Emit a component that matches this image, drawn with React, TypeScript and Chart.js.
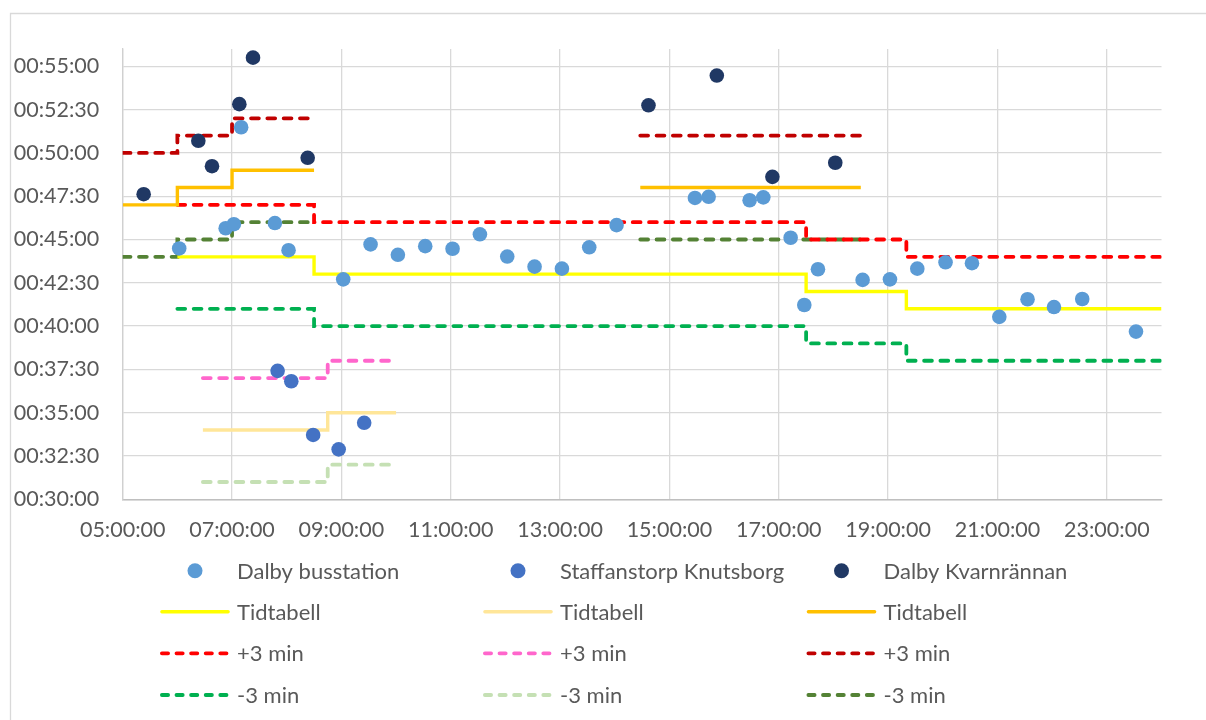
import React, { useEffect, useRef } from 'react';
import { Chart, registerables } from 'chart.js';
Chart.register(...registerables);

// ---- axis ticks ----
const xTickLabels = ['05:00:00', '07:00:00', '09:00:00', '11:00:00', '13:00:00', '15:00:00', '17:00:00', '19:00:00', '21:00:00', '23:00:00'];
const yTickLabels = ['00:30:00', '00:32:30', '00:35:00', '00:37:30', '00:40:00', '00:42:30', '00:45:00', '00:47:30', '00:50:00', '00:52:30', '00:55:00'];
const xRange = ['05:00:00', '24:00:00'];
const yRange = ['00:30:00', '00:56:00'];

// ---- Dalby busstation (observed) ----
const busTimes = ['06:02', '06:53', '07:02', '07:10', '07:47', '08:02', '09:02', '09:32', '10:02', '10:32', '11:02', '11:32', '12:02', '12:32', '13:02', '13:32', '14:02', '15:28', '15:43', '16:28', '16:43', '17:13', '17:28', '17:43', '18:32', '19:02', '19:32', '20:03', '20:32', '21:02', '21:33', '22:02', '22:33', '23:32'];
const busValues = ['00:44:29', '00:45:39', '00:45:53', '00:51:29', '00:45:57', '00:44:23', '00:42:42', '00:44:43', '00:44:07', '00:44:37', '00:44:28', '00:45:18', '00:44:01', '00:43:26', '00:43:19', '00:44:33', '00:45:50', '00:47:24', '00:47:28', '00:47:16', '00:47:26', '00:45:06', '00:41:13', '00:43:17', '00:42:40', '00:42:42', '00:43:19', '00:43:41', '00:43:38', '00:40:32', '00:41:33', '00:41:06', '00:41:34', '00:39:41'];

// ---- Staffanstorp Knutsborg (observed) ----
const staffTimes = ['07:50', '08:05', '08:29', '08:57', '09:25'];
const staffValues = ['00:37:25', '00:36:49', '00:33:43', '00:32:53', '00:34:25'];

// ---- Dalby Kvarnrännan (observed) ----
const kvarnTimes = ['05:23', '06:23', '06:38', '07:08', '07:23', '08:23', '14:37', '15:52', '16:53', '18:02'];
const kvarnValues = ['00:47:37', '00:50:42', '00:49:14', '00:52:49', '00:55:30', '00:49:43', '00:52:45', '00:54:28', '00:48:37', '00:49:26'];

// ---- Timetable steps: Dalby busstation ----
const tidBusTimes = ['06:00', '08:30', '17:30', '19:20', '24:00'];
const tidBus = ['00:44:00', '00:43:00', '00:42:00', '00:41:00', '00:41:00'];
const plusBus = ['00:47:00', '00:46:00', '00:45:00', '00:44:00', '00:44:00'];
const minusBus = ['00:41:00', '00:40:00', '00:39:00', '00:38:00', '00:38:00'];

// ---- Timetable steps: Staffanstorp Knutsborg ----
const tidStaffTimes = ['06:28', '08:45', '10:00'];
const tidStaff = ['00:34:00', '00:35:00', '00:35:00'];
const plusStaff = ['00:37:00', '00:38:00', '00:38:00'];
const minusStaff = ['00:31:00', '00:32:00', '00:32:00'];

// ---- Timetable steps: Dalby Kvarnrännan (gap between runs) ----
const tidKvarnTimes = ['05:00', '06:00', '07:00', '08:30', '11:00', '14:28', '18:30'];
const tidKvarn = ['00:47:00', '00:48:00', '00:49:00', '00:49:00', null, '00:48:00', '00:48:00'];
const plusKvarn = ['00:50:00', '00:51:00', '00:52:00', '00:52:00', null, '00:51:00', '00:51:00'];
const minusKvarn = ['00:44:00', '00:45:00', '00:46:00', '00:46:00', null, '00:45:00', '00:45:00'];

const toSec = (s: string | null): number | null => {
  if (s === null) return null;
  const p = s.split(':').map(Number);
  return p.length === 3 ? p[0] * 3600 + p[1] * 60 + p[2] : p[0] * 3600 + p[1] * 60;
};
const pad = (n: number) => String(n).padStart(2, '0');
const fmt = (v: number) => {
  const h = Math.floor(v / 3600);
  const m = Math.floor((v % 3600) / 60);
  const s = Math.round(v % 60);
  return `${pad(h)}:${pad(m)}:${pad(s)}`;
};
const pts = (times: string[], vals: (string | null)[]) =>
  times.map((t, i) => ({ x: toSec(t) as number, y: toSec(vals[i]) }));

const FONT = 'Lato';
const TEXT = '#595959';
const DASH = [7.8, 8.5];
const DASH_W = 3.8;
const SOLID_W = 3.4;

const scatterDs = (label: string, times: string[], vals: string[], color: string) => ({
  type: 'scatter' as const,
  label,
  data: pts(times, vals),
  backgroundColor: color,
  borderColor: color,
  pointRadius: 7.3,
  pointBorderWidth: 0,
  showLine: false,
});

const stepDs = (label: string, times: string[], vals: (string | null)[], color: string, dashed: boolean) => ({
  type: 'line' as const,
  label,
  data: pts(times, vals),
  borderColor: color,
  backgroundColor: color,
  borderWidth: dashed ? DASH_W : SOLID_W,
  borderDash: dashed ? DASH : [],
  borderCapStyle: dashed ? 'round' : 'butt',
  borderJoinStyle: 'miter',
  stepped: 'before',
  pointRadius: 0,
  pointHoverRadius: 0,
  spanGaps: false,
  fill: false,
  tension: 0,
});

const legendColX = [160, 483, 806.5];
const legendRowY = [570.7, 611.7, 653.3, 695];

const frameAndLegend = {
  id: 'frameAndLegend',
  beforeDraw(chart: any) {
    const ctx = chart.ctx;
    ctx.save();
    ctx.strokeStyle = '#d9d9d9';
    ctx.lineWidth = 1.3;
    ctx.beginPath();
    ctx.moveTo(10.5, 730);
    ctx.lineTo(10.5, 13.5);
    ctx.lineTo(1220, 13.5);
    ctx.stroke();
    ctx.restore();
  },
  afterDraw(chart: any) {
    const ctx = chart.ctx;
    ctx.save();
    chart.data.datasets.forEach((ds: any, i: number) => {
      const col = i % 3;
      const row = Math.floor(i / 3);
      const x0 = legendColX[col];
      const y = legendRowY[row];
      if (ds.type === 'scatter') {
        ctx.fillStyle = ds.backgroundColor;
        ctx.beginPath();
        ctx.arc(x0 + 35, y, 7.5, 0, Math.PI * 2);
        ctx.fill();
      } else {
        ctx.strokeStyle = ds.borderColor;
        const dashed = ds.borderDash && ds.borderDash.length > 0;
        ctx.lineWidth = dashed ? DASH_W : SOLID_W;
        ctx.setLineDash(dashed ? [6.2, 8.4] : []);
        ctx.lineCap = 'round';
        ctx.beginPath();
        ctx.moveTo(x0 + 1.9, y);
        ctx.lineTo(x0 + 70 - 1.9, y);
        ctx.stroke();
        ctx.setLineDash([]);
      }
      ctx.fillStyle = TEXT;
      ctx.font = `22px ${FONT}`;
      ctx.textAlign = 'left';
      ctx.textBaseline = 'alphabetic';
      ctx.fillText(ds.label, x0 + 77, y + 7.8);
    });
    ctx.restore();
  },
};

export default function App() {
  const ref = useRef<HTMLCanvasElement | null>(null);
  useEffect(() => {
    document.body.style.margin = '0';
    const canvas = ref.current;
    if (!canvas) return;
    const datasets: any[] = [
      scatterDs('Dalby busstation', busTimes, busValues, '#5B9BD5'),
      scatterDs('Staffanstorp Knutsborg', staffTimes, staffValues, '#4472C4'),
      scatterDs('Dalby Kvarnrännan', kvarnTimes, kvarnValues, '#203864'),
      stepDs('Tidtabell', tidBusTimes, tidBus, '#FFFF00', false),
      stepDs('Tidtabell', tidStaffTimes, tidStaff, '#FFE699', false),
      stepDs('Tidtabell', tidKvarnTimes, tidKvarn, '#FFC000', false),
      stepDs('+3 min', tidBusTimes, plusBus, '#FF0000', true),
      stepDs('+3 min', tidStaffTimes, plusStaff, '#FF66CC', true),
      stepDs('+3 min', tidKvarnTimes, plusKvarn, '#C00000', true),
      stepDs('-3 min', tidBusTimes, minusBus, '#00B050', true),
      stepDs('-3 min', tidStaffTimes, minusStaff, '#C5E0B4', true),
      stepDs('-3 min', tidKvarnTimes, minusKvarn, '#548235', true),
    ];
    const chart = new Chart(canvas, {
      type: 'scatter',
      data: { datasets },
      options: {
        animation: false,
        responsive: false,
        maintainAspectRatio: false,
        devicePixelRatio: 1,
        layout: { padding: { left: 0, top: 49, right: 44.5, bottom: 0 } },
        plugins: { legend: { display: false }, tooltip: { enabled: false }, title: { display: false } },
        scales: {
          x: {
            type: 'linear',
            min: toSec(xRange[0]) as number,
            max: toSec(xRange[1]) as number,
            afterBuildTicks: (scale: any) => {
              scale.ticks = xTickLabels.map((l) => ({ value: toSec(l) as number }));
            },
            afterFit: (scale: any) => {
              scale.height = 220.7;
            },
            grid: { color: '#d9d9d9', lineWidth: 1.3, drawTicks: false },
            border: { display: true, color: '#bfbfbf', width: 1.5 },
            ticks: {
              autoSkip: false,
              maxRotation: 0,
              padding: 18,
              color: TEXT,
              font: { family: FONT, size: 21.5 },
              callback: (v: any) => fmt(Number(v)),
            },
          },
          y: {
            type: 'linear',
            min: toSec(yRange[0]) as number,
            max: toSec(yRange[1]) as number,
            afterBuildTicks: (scale: any) => {
              scale.ticks = yTickLabels.map((l) => ({ value: toSec(l) as number }));
            },
            afterFit: (scale: any) => {
              scale.width = 122.7;
            },
            grid: { color: '#d9d9d9', lineWidth: 1.3, drawTicks: false },
            border: { display: true, color: '#d0d0d0', width: 1.3 },
            ticks: {
              padding: 23.4,
              color: TEXT,
              font: { family: FONT, size: 21.5 },
              callback: (v: any) => fmt(Number(v)),
            },
          },
        },
      } as any,
      plugins: [frameAndLegend],
    });
    return () => chart.destroy();
  }, []);
  return (
    <div style={{ position: 'absolute', left: 0, top: 0, width: 1206, height: 720 }}>
      <canvas ref={ref} width={1206} height={720} style={{ width: 1206, height: 720, display: 'block' }} />
    </div>
  );
}
